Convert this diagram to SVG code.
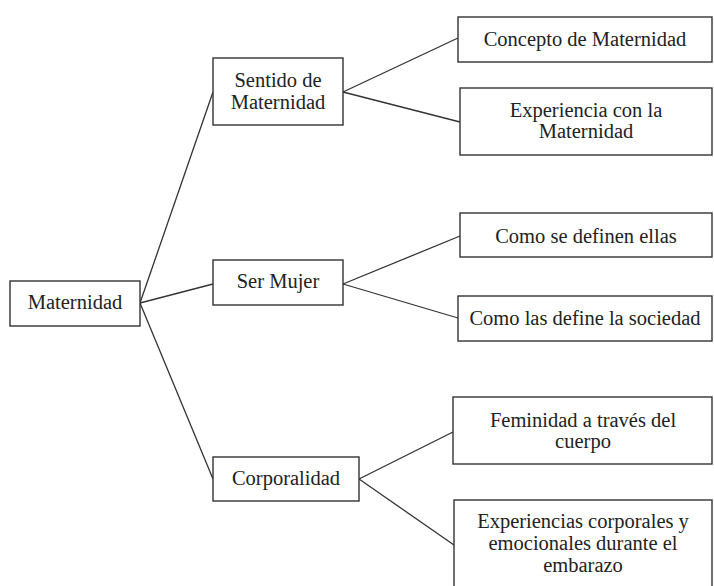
<svg xmlns="http://www.w3.org/2000/svg" width="714" height="586" viewBox="0 0 714 586">
<style>
rect{fill:#fff;stroke:#333;stroke-width:1.4}
line{stroke:#333;stroke-width:1.3}
text{font-family:"Liberation Serif","Times New Roman",serif;font-size:20.5px;fill:#222;text-anchor:middle}
</style>
<rect x="0" y="0" width="714" height="586" style="stroke:none"/>
<g id="connectors">
<line x1="140" y1="303" x2="213" y2="92"/>
<line x1="140" y1="303" x2="213" y2="284"/>
<line x1="140" y1="303" x2="213" y2="479"/>
<line x1="343" y1="92" x2="458" y2="38"/>
<line x1="343" y1="92" x2="460" y2="122"/>
<line x1="343" y1="284" x2="460" y2="236"/>
<line x1="343" y1="284" x2="458" y2="318"/>
<line x1="359" y1="479" x2="453" y2="432"/>
<line x1="359" y1="479" x2="454" y2="545"/>
</g>
<g id="maternidad"><rect x="10" y="281" width="130" height="45"/><text x="75" y="309">Maternidad</text></g>
<g id="sentido"><rect x="213" y="58" width="130" height="67"/><text x="278" y="87">Sentido de</text><text x="278" y="109">Maternidad</text></g>
<g id="ser-mujer"><rect x="213" y="260" width="130" height="45"/><text x="278" y="288">Ser Mujer</text></g>
<g id="corporalidad"><rect x="213" y="457" width="146" height="44"/><text x="286" y="485">Corporalidad</text></g>
<g id="concepto"><rect x="458" y="17" width="254" height="45"/><text x="585" y="46">Concepto de Maternidad</text></g>
<g id="experiencia"><rect x="460" y="88" width="252" height="67"/><text x="586" y="117">Experiencia con la</text><text x="586" y="138">Maternidad</text></g>
<g id="como-se"><rect x="460" y="213" width="252" height="44"/><text x="586" y="243">Como se definen ellas</text></g>
<g id="como-las"><rect x="458" y="296" width="254" height="45"/><text x="585" y="325">Como las define la sociedad</text></g>
<g id="feminidad"><rect x="453" y="397" width="259" height="67"/><text x="583" y="427">Feminidad a través del</text><text x="583" y="448">cuerpo</text></g>
<g id="experiencias"><rect x="454" y="500" width="258" height="100"/><text x="583" y="528">Experiencias corporales y</text><text x="583" y="550">emocionales durante el</text><text x="583" y="572">embarazo</text></g>
</svg>
